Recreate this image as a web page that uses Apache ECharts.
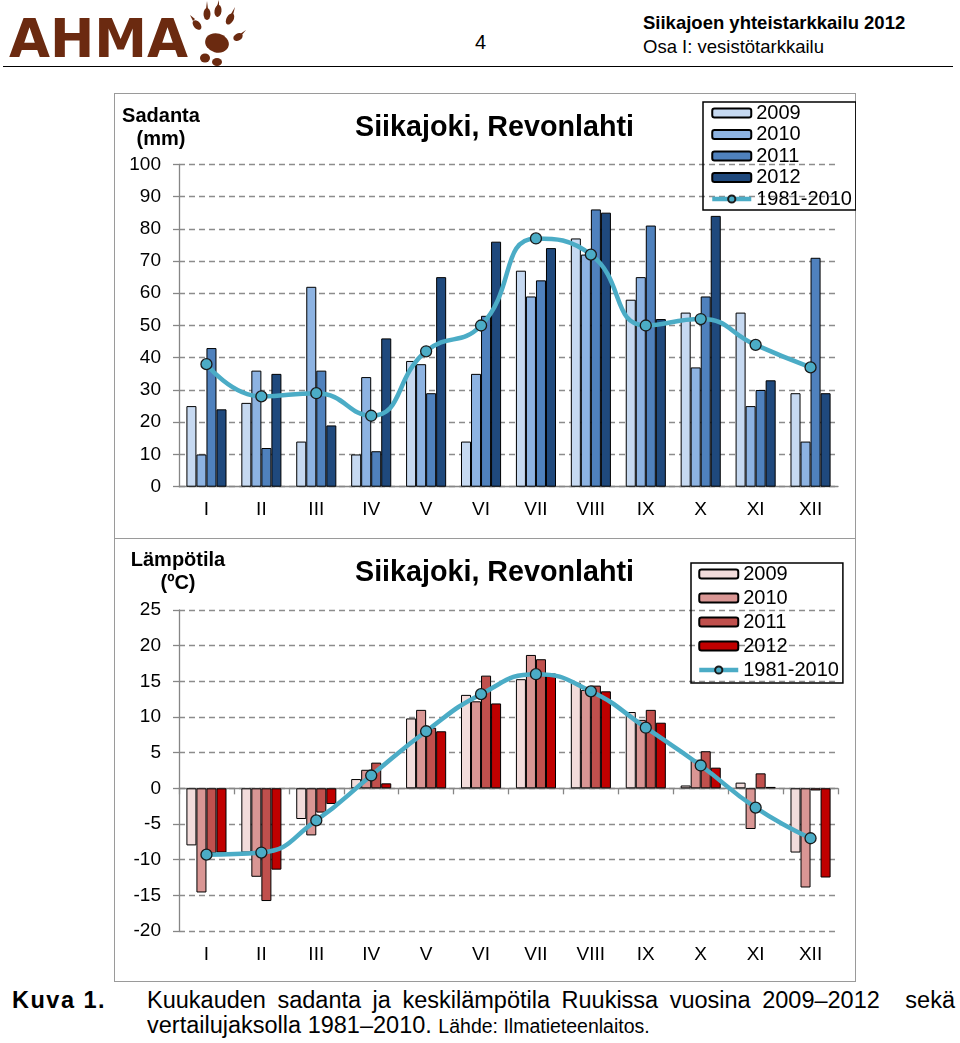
<!DOCTYPE html>
<html>
<head>
<meta charset="utf-8">
<script src="https://cdn.jsdelivr.net/npm/echarts@6/dist/echarts.min.js"></script>
<style>
  html, body { margin: 0; padding: 0; background: #fff; }
  body { width: 960px; height: 1043px; position: relative; overflow: hidden; font-family: 'Liberation Sans', Arial, sans-serif; color: #000; }
  .abs { position: absolute; white-space: nowrap; }
  #c1, #c2 { position: absolute; left: 115px; width: 741px; }
  #c1 { top: 94px; height: 445px; }
  #c2 { top: 539px; height: 443px; }
  #frame { position: absolute; left: 114px; top: 93px; width: 740px; height: 887px; border: 1.6px solid #9a9a9a; }
  #sep { position: absolute; left: 114px; top: 538px; width: 742px; height: 0; border-top: 1.6px solid #9a9a9a; }
  #hline { position: absolute; left: 3px; top: 66px; width: 950px; height: 0; border-top: 1.5px solid #000; }
  #cap1 { position: absolute; left: 147px; top: 987px; width: 808px; display: flex; justify-content: space-between; font-size: 23.5px; }
</style>
</head>
<body>
<div class="abs" style="left:9px; top:12px; font-family:'DejaVu Sans'; font-weight:bold; font-size:53px; color:#6b2a10; line-height:53px;">AHMA</div>
<svg class="abs" style="left:188px; top:0px;" width="60" height="70" viewBox="0 0 60 70">
  <g fill="#6b2a10">
    <ellipse cx="29" cy="43" rx="12" ry="9.5" transform="rotate(15 29 43)"/>
    <ellipse cx="17" cy="58" rx="5" ry="4.5"/>
    <ellipse cx="29" cy="62" rx="5" ry="4"/>
    <ellipse cx="9" cy="25" rx="3.5" ry="5.5" transform="rotate(-40 9 25)"/>
    <ellipse cx="19" cy="14" rx="3.5" ry="6"/>
    <ellipse cx="30" cy="11" rx="3.5" ry="6" transform="rotate(8 30 11)"/>
    <ellipse cx="42" cy="19" rx="3.5" ry="6" transform="rotate(30 42 19)"/>
    <ellipse cx="50" cy="37" rx="3.5" ry="5" transform="rotate(60 50 37)"/>
    <polygon points="18,9 20,9 19,1"/>
    <polygon points="29,6 31,6 31,0"/>
    <polygon points="43,14 45,15 47,7"/>
    <polygon points="52,34 53,36 58,30"/>
    <polygon points="5,21 7,19 2,15"/>
  </g>
</svg>
<div class="abs" style="left:475px; top:31px; font-size:20px;">4</div>
<div class="abs" style="left:643px; top:12px; font-size:18.5px; font-weight:bold;">Siikajoen yhteistarkkailu 2012</div>
<div class="abs" style="left:643px; top:36px; font-size:18.5px;">Osa I: vesistötarkkailu</div>
<div id="hline"></div>

<div id="frame"></div>
<div id="sep"></div>
<div id="c1"></div>
<div id="c2"></div>

<div class="abs" style="left:12px; top:987px; font-size:23.5px; font-weight:bold; letter-spacing:1.5px;">Kuva 1.</div>
<div id="cap1"><span>Kuukauden</span><span>sadanta</span><span>ja</span><span>keskilämpötila</span><span>Ruukissa</span><span>vuosina</span><span>2009–2012</span><span style="margin-left:14px;">sekä</span></div>
<div class="abs" style="left:147px; top:1012px; font-size:23.5px;">vertailujaksolla 1981–2010. <span style="font-size:19.5px;">Lähde: Ilmatieteenlaitos.</span></div>

<script>
// ---------- data ----------
const months = ['I', 'II', 'III', 'IV', 'V', 'VI', 'VII', 'VIII', 'IX', 'X', 'XI', 'XII'];
const seriesNames = ['2009', '2010', '2011', '2012', '1981-2010'];
const chartTitle = 'Siikajoki, Revonlahti';

// precipitation (mm)
const precip2009 = [25, 26, 14, 10, 39, 14, 67, 77, 58, 54, 54, 29];
const precip2010 = [10, 36, 62, 34, 38, 35, 59, 72, 65, 37, 25, 14];
const precip2011 = [43, 12, 36, 11, 29, 53, 64, 86, 81, 59, 30, 71];
const precip2012 = [24, 35, 19, 46, 65, 76, 74, 85, 52, 84, 33, 29];
const precipNormal = [38, 28, 29, 22, 42, 50, 77, 72, 50, 52, 44, 37];

// temperature (ºC)
const temp2009 = [-8.0, -9.0, -4.3, 1.3, 9.8, 13.1, 15.3, 14.8, 10.7, 0.4, 0.8, -9.0];
const temp2010 = [-14.6, -12.4, -6.6, 2.6, 11.0, 12.2, 18.7, 13.8, 9.6, 4.0, -5.7, -13.9];
const temp2011 = [-9.1, -15.8, -3.4, 3.6, 8.5, 15.8, 18.1, 14.4, 11.0, 5.2, 2.1, -0.3];
const temp2012 = [-9.0, -11.4, -2.2, 0.7, 8.0, 11.9, 16.1, 13.6, 9.2, 2.9, 0.2, -12.5];
const tempNormal = [-9.3, -9.0, -4.5, 1.8, 8.0, 13.2, 16.0, 13.6, 8.5, 3.2, -2.7, -7.0];

const blueColors = ['#C6D9F1', '#8DB3E2', '#4F81BD', '#1F497D'];
const redColors = ['#F2DCDB', '#D99694', '#C0504D', '#C00000'];
const lineColor = '#4BACC6';

const FONT = 'Liberation Sans';
const axisGray = '#868686';

function barSeries(name, data, color) {
  return {
    name: name, type: 'bar', data: data,
    barGap: '0%', barCategoryGap: '27%',
    itemStyle: { color: color, borderColor: '#000', borderWidth: 1 },
    xAxisIndex: 0
  };
}
function lineSeries(name, data) {
  return {
    name: name, type: 'line', data: data, smooth: 0.5,
    symbol: 'circle', symbolSize: 11, z: 5,
    lineStyle: { color: lineColor, width: 4.5 },
    itemStyle: { color: lineColor, borderColor: '#1a1a1a', borderWidth: 1.3 },
    xAxisIndex: 0
  };
}
function yAxisCfg(min, max, interval) {
  return {
    type: 'value', min: min, max: max, interval: interval,
    axisLine: { show: true, lineStyle: { color: axisGray, width: 1.3 } },
    axisTick: { show: true, length: 6, lineStyle: { color: axisGray, width: 1.3 } },
    axisLabel: { fontSize: 19, color: '#000', fontFamily: FONT, margin: 18 },
    splitLine: { show: true, lineStyle: { color: '#8c8c8c', width: 1.3, type: [6, 4] } }
  };
}
function legendCfg(left, top, padding, gap) {
  return {
    orient: 'vertical', left: left, top: top, padding: padding, itemGap: gap,
    itemWidth: 39, itemHeight: 9, borderColor: '#000', borderWidth: 1.5,
    data: seriesNames,
    lineStyle: { width: 4.5 },
    textStyle: { fontSize: 20, fontFamily: FONT, color: '#000', lineHeight: 20 }
  };
}
function textGraphic(x, y, text, size, bold) {
  return { type: 'text', x: x, y: y, style: { text: text, fontSize: size, fontWeight: bold ? 'bold' : 'normal', fontFamily: FONT, fill: '#000', align: 'center', verticalAlign: 'middle' } };
}

// ---------- chart 1: precipitation ----------
const c1 = echarts.init(document.getElementById('c1'), null, { renderer: 'canvas' });
c1.setOption({
  animation: false,
  grid: { left: 64, right: 18, top: 70.3, bottom: 52.3 },
  xAxis: {
    type: 'category', data: months,
    axisLine: { lineStyle: { color: axisGray, width: 1.3 } },
    axisTick: { length: 6, lineStyle: { color: axisGray, width: 1.3 } },
    axisLabel: { fontSize: 19, color: '#000', fontFamily: FONT, margin: 14 }
  },
  yAxis: yAxisCfg(0, 100, 10),
  legend: legendCfg(588, 8, [1, 4, 1, 7], 1.5),
  series: [
    barSeries('2009', precip2009, blueColors[0]),
    barSeries('2010', precip2010, blueColors[1]),
    barSeries('2011', precip2011, blueColors[2]),
    barSeries('2012', precip2012, blueColors[3]),
    lineSeries('1981-2010', precipNormal)
  ],
  graphic: [
    textGraphic(379.5, 34, chartTitle, 28.7, true),
    textGraphic(46, 22, 'Sadanta', 20, true),
    textGraphic(46, 45, '(mm)', 20, true)
  ]
});

// ---------- chart 2: temperature ----------
const c2 = echarts.init(document.getElementById('c2'), null, { renderer: 'canvas' });
c2.setOption({
  animation: false,
  grid: { left: 64, right: 18, top: 71, bottom: 51 },
  xAxis: [
    {
      type: 'category', data: months, position: 'bottom',
      axisLine: { show: false, onZero: false }, axisTick: { show: false },
      axisLabel: { fontSize: 19, color: '#000', fontFamily: FONT, margin: 14 }
    },
    {
      type: 'category', data: months, position: 'top',
      axisLine: { show: true, onZero: true, lineStyle: { color: axisGray, width: 1.3 } },
      axisTick: { show: true, inside: true, length: 6, lineStyle: { color: axisGray, width: 1.3 } },
      axisLabel: { show: false }
    }
  ],
  yAxis: yAxisCfg(-20, 25, 5),
  legend: legendCfg(576, 24, [1, 4, 3, 6], 4),
  series: [
    barSeries('2009', temp2009, redColors[0]),
    barSeries('2010', temp2010, redColors[1]),
    barSeries('2011', temp2011, redColors[2]),
    barSeries('2012', temp2012, redColors[3]),
    lineSeries('1981-2010', tempNormal)
  ],
  graphic: [
    textGraphic(379.5, 34.5, chartTitle, 28.7, true),
    textGraphic(63, 21.5, 'Lämpötila', 20, true),
    textGraphic(63, 44.5, '(ºC)', 20, true)
  ]
});
</script>
</body>
</html>
